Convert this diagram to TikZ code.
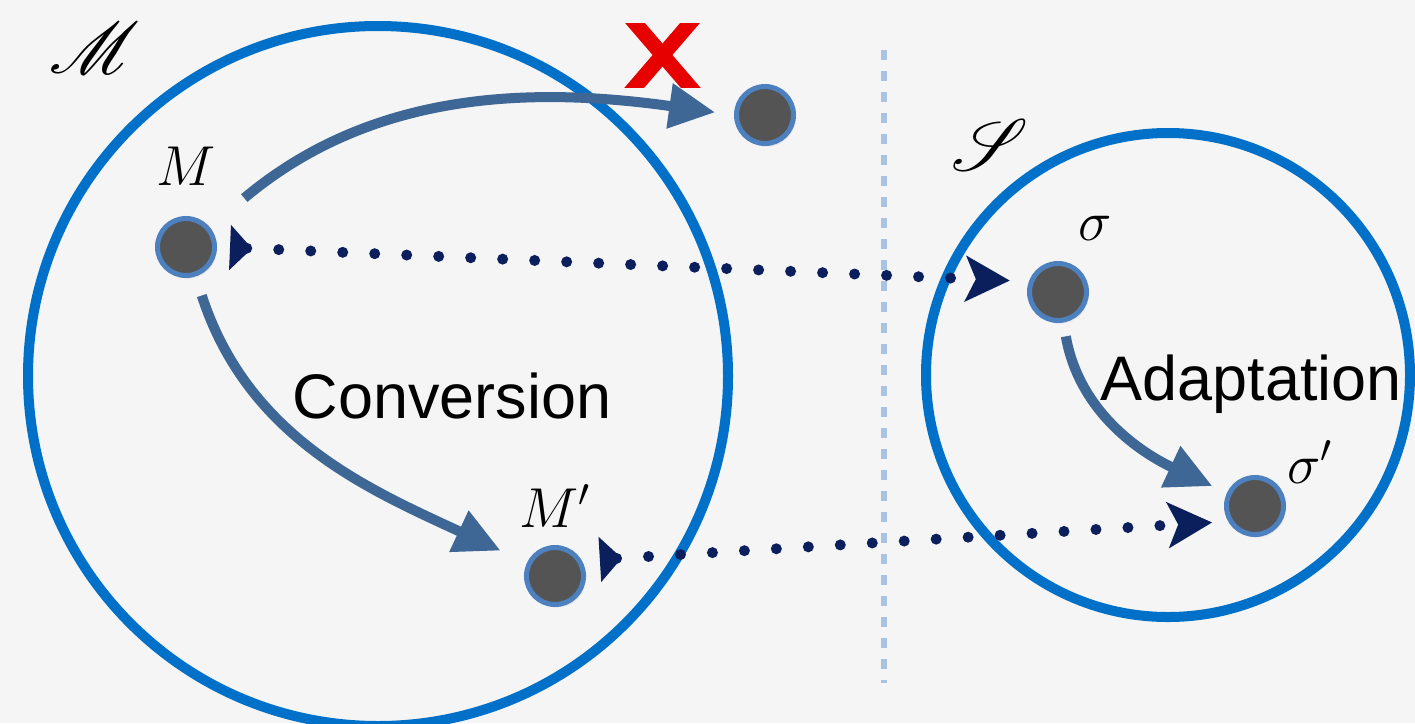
\RequirePackage{fix-cm}
\documentclass[tikz,border=0pt]{standalone}
\usepackage{amsmath}
\usepackage{mathrsfs}
\usepackage{fontspec}
\setmainfont{Liberation Sans}
\usepackage{xcolor}
\definecolor{SetBlue}{RGB}{0,112,200}
\definecolor{FlowBlue}{RGB}{62,103,150}
\definecolor{DotNavy}{RGB}{10,31,92}
\definecolor{PointGray}{RGB}{84,84,84}
\definecolor{PointRim}{RGB}{76,128,190}
\definecolor{SplitBlue}{RGB}{168,196,226}
\definecolor{CrossRed}{RGB}{230,0,0}
\definecolor{PaperGray}{RGB}{245,245,245}
\usepackage{tikz}
\usetikzlibrary{
    arrows.meta,
    shadows
}

\begin{document}
\begin{tikzpicture}[
    x=0.01cm,
    y=0.01cm,
    point/.style={
        circle,
        fill=PointGray,
        draw=PointRim,
        line width=0.05cm,
        minimum size=0.57cm,
        inner sep=0pt,
        drop shadow={
            shadow xshift=0.02cm,
            shadow yshift=-0.03cm,
            opacity=0.15
        }
    },
    setline/.style={
        draw=SetBlue,
        line width=0.1cm
    },
    splitline/.style={
        draw=SplitBlue,
        line width=0.06cm,
        dash pattern=on 0.1cm off 0.11cm
    },
    flow/.style={
        draw=FlowBlue,
        line width=0.1cm,
        -{Triangle[length=0.46cm,width=0.43cm]}
    },
    link/.style={
        DotNavy,
        line width=0.11cm,
        line cap=round,
        dash pattern=on 0pt off 0.32cm,
        {Triangle[reversed,length=0.22cm,width=0.44cm]}-{Stealth[length=0.44cm,width=0.45cm,inset=0.1cm]}
    },
    cross/.style={
        draw=CrossRed,
        line width=0.15cm
    },
    mathlabel/.style={
        font=\fontsize{16}{18}\selectfont,
        inner sep=0pt
    },
    setlabel/.style={
        font=\fontsize{21}{24}\selectfont,
        inner sep=0pt,
        anchor=base
    },
    textlabel/.style={
        font=\fontsize{17.9}{20}\selectfont,
        inner sep=0pt,
        anchor=base west
    }
]
%
    \fill[PaperGray] (0,0) rectangle (1415,723);
    \useasboundingbox (0,0) rectangle (1415,723);
    \clip (0,0) rectangle (1415,723);
%
    % the two spaces and the split between them
%
    \draw[setline] (378,347) circle (350);
    \draw[setline] (1168,348) circle (242);
    \draw[splitline] (884,673) -- (884,40);
%
    \node[point] (M) at (186,476) {};
    \node[point] (Mprime) at (555,147) {};
    \node[point] (lost) at (765,608) {};
    \node[point] (sig) at (1058,431) {};
    \node[point] (sigprime) at (1255,217) {};
%
    \node[setlabel] (labMset) at (95,650) {$\mathscr{M}$};
    \node[setlabel] (labSset) at (990,553) {$\mathscr{S}$};
    \node[mathlabel] (labM) at (186,557) {$M$};
    \node[mathlabel] (labMprime) at (555,217) {$M'$};
    \node[mathlabel] (labsig) at (1095,495) {$\sigma$};
    \node[mathlabel] (labsigprime) at (1310,261) {$\sigma'$};
%
    \node[textlabel] (conv) at (292,305) {Conversion};
    \node[textlabel] (adapt) at (1100,323) {Adaptation};
%
    % correspondences between the spaces
%
    \draw[
        link,
        shorten <=0.13cm,
        shorten >=0.19cm
    ]
    (M.east)
    --
    (sig.160);
%
    \draw[
        link,
        shorten <=0.18cm,
        shorten >=0.16cm
    ]
    (Mprime.30)
    --
    (sigprime.210);
%
    % conversion and adaptation
%
    \draw[
        flow,
        shorten <=0.45cm,
        shorten >=0.19cm
    ]
    (M)
    to[out=40,in=172]
    (lost.west);
%
    \draw[
        flow,
        shorten <=0.2cm,
        shorten >=0.29cm
    ]
    (M)
    to[out=-72,in=155]
    (Mprime);
%
    \draw[
        flow,
        shorten <=0.14cm,
        shorten >=0.16cm
    ]
    (sig)
    to[out=-80,in=155]
    (sigprime);
%
    % the target that cannot be reached
%
    \begin{scope}
        \clip (620,636) rectangle (705,700);
        \draw[cross] (622.5,621.5) -- (702.5,714.5);
        \draw[cross] (702.5,621.5) -- (622.5,714.5);
    \end{scope}
%
\end{tikzpicture}
\end{document}
